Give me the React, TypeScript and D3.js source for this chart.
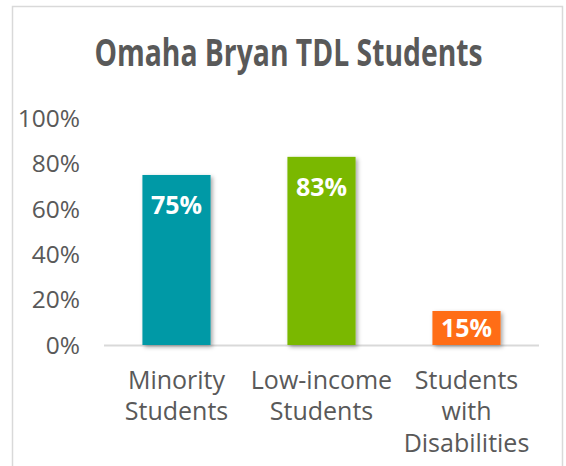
import React from "react";
import * as d3 from "d3";

const categories: string[][] = [
  ["Minority", "Students"],
  ["Low-income", "Students"],
  ["Students", "with", "Disabilities"],
];
const values: number[] = [75, 83, 15];
const barColors: string[] = ["#0099A6", "#7AB800", "#FF6D17"];
const yTicks: number[] = [0, 20, 40, 60, 80, 100];
const title = "Omaha Bryan TDL Students";

const W = 566;
const H = 466;
const FONT = "'Open Sans', 'Noto Sans', sans-serif";
const GRAY = "#595959";

export default function App() {
  const x = d3
    .scaleBand<number>()
    .domain(values.map((_, i) => i))
    .range([104, 539])
    .paddingInner(0.53)
    .paddingOuter(0.265);
  const y = d3.scaleLinear().domain([0, 100]).range([345, 118.3]);

  return (
    <svg
      width={W}
      height={H}
      style={{ position: "absolute", left: 0, top: 0, background: "#fff" }}
    >
      <defs>
        <filter id="shadow" x="-20%" y="-20%" width="140%" height="140%">
          <feDropShadow dx="2" dy="2" stdDeviation="2" floodColor="#000" floodOpacity="0.35" />
        </filter>
      </defs>
      <rect x={12.5} y={6.5} width={550} height={480} fill="#fff" stroke="#D9D9D9" strokeWidth={1.5} />
      <text
        transform="translate(288.5,65.5) scale(0.765,1)"
        textAnchor="middle"
        fontFamily={FONT}
        fontWeight={700}
        fontSize={37}
        fill={GRAY}
      >
        {title}
      </text>
      {yTicks.map((t) => (
        <text
          key={t}
          x={80}
          y={y(t)}
          dy="0.35em"
          textAnchor="end"
          fontFamily={FONT}
          fontSize={24.5}
          fill={GRAY}
        >
          {t + "%"}
        </text>
      ))}
      <line x1={104} x2={539} y1={345.5} y2={345.5} stroke="#D9D9D9" strokeWidth={2} />
      {values.map((v, i) => {
        const bx = x(i)!;
        const bw = x.bandwidth();
        const top = y(v);
        const bottom = y(0);
        const ly = Math.min(top + 30, (top + bottom) / 2);
        return (
          <g key={i}>
            <rect x={bx} y={top} width={bw} height={bottom - top} fill={barColors[i]} filter="url(#shadow)" />
            <text
              x={bx + bw / 2}
              y={ly}
              dy="0.35em"
              textAnchor="middle"
              fontFamily={FONT}
              fontWeight={700}
              fontSize={25}
              fill="#fff"
            >
              {v + "%"}
            </text>
            {categories[i].map((line, j) => (
              <text
                key={j}
                x={bx + bw / 2}
                y={380 + j * 31.5}
                dy="0.35em"
                textAnchor="middle"
                fontFamily={FONT}
                fontSize={25}
                fill={GRAY}
              >
                {line}
              </text>
            ))}
          </g>
        );
      })}
    </svg>
  );
}
